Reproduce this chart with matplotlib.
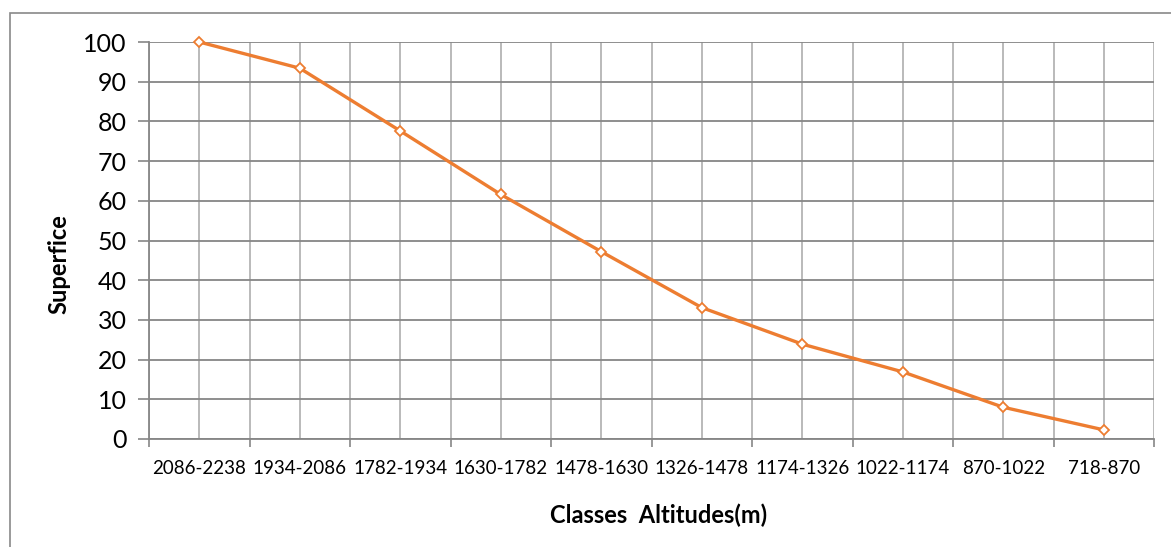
import numpy as np
import matplotlib
matplotlib.use('Agg')
import matplotlib.pyplot as plt
from matplotlib.patches import Rectangle

plt.rcParams['font.family'] = ['Lato', 'DejaVu Sans']

# Dane
classes = ['2086-2238', '1934-2086', '1782-1934', '1630-1782', '1478-1630',
           '1326-1478', '1174-1326', '1022-1174', '870-1022', '718-870']
superficie = [100, 93.4, 77.6, 61.6, 47.2, 33.1, 23.9, 16.9, 8.0, 2.3]

W, H = 1171, 547
fig = plt.figure(figsize=(W / 100, H / 100), dpi=100)
ax = fig.add_axes([149 / W, (H - 439) / H, (1154 - 149) / W, (439 - 42) / H])

# ramka wykresu (przycięta z prawej i z dołu)
fig.patches.append(Rectangle((10 / W, -0.1), 1.2, (H - 13) / H + 0.1,
                             transform=fig.transFigure, fill=False,
                             edgecolor='#898989', linewidth=1.2))

x = np.arange(len(classes))
ax.plot(x, superficie, color='#ED7D31', linewidth=2.4, marker='D',
        markersize=5.5, markerfacecolor='white', markeredgecolor='#ED7D31',
        markeredgewidth=1.3, zorder=3, clip_on=False)

ax.set_xlim(-0.5, len(classes) - 0.5)
ax.set_ylim(0, 100)
ax.set_yticks(np.arange(0, 101, 10))

# etykiety kategorii na środku, podziałki na granicach
ax.set_xticks(np.arange(-0.5, len(classes), 1.0))
ax.set_xticklabels([])
ax.set_xticks(x, minor=True)
ax.set_xticklabels(classes, minor=True)
ax.tick_params(axis='x', which='major', length=6, width=1.2, color='#868686')
ax.tick_params(axis='x', which='minor', length=0, pad=15, labelsize=13.5)
ax.tick_params(axis='y', length=8, width=1.2, color='#868686', labelsize=18, pad=8)

ax.grid(axis='x', which='both', color='#b4b4b4', linewidth=1.3)
ax.grid(axis='y', which='major', color='#868686', linewidth=1.3)
ax.set_axisbelow(True)

for s in ['top', 'right']:
    ax.spines[s].set_visible(False)
for s in ['left', 'bottom']:
    ax.spines[s].set_color('#868686')
    ax.spines[s].set_linewidth(1.3)

fig.text(659 / W, (H - 515) / H, 'Classes  Altitudes(m)', ha='center', va='center',
         fontsize=17, fontweight='bold')
fig.text(59 / W, (H - 264) / H, 'Superfice', ha='center', va='center',
         rotation=90, fontsize=17, fontweight='bold')

fig.savefig('out.png', dpi=100)
